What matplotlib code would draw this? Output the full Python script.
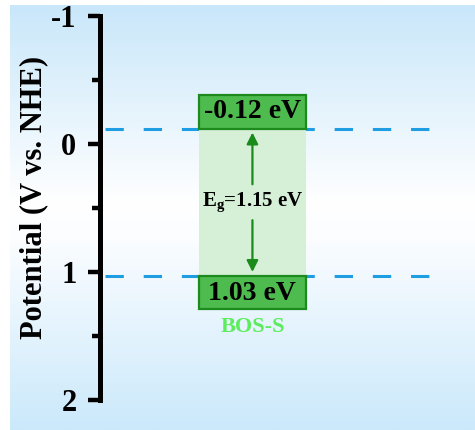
import numpy as np
import matplotlib
matplotlib.use("Agg")
import matplotlib.pyplot as plt
from matplotlib.patches import Rectangle, FancyArrowPatch
from matplotlib.colors import LinearSegmentedColormap

plt.rcParams['font.family'] = ['Liberation Serif', 'DejaVu Serif']
plt.rcParams['font.weight'] = 'bold'
plt.rcParams['mathtext.fontset'] = 'custom'
plt.rcParams['mathtext.rm'] = 'Liberation Serif:bold'
plt.rcParams['mathtext.it'] = 'Liberation Serif:bold'
plt.rcParams['mathtext.bf'] = 'Liberation Serif:bold'

# Band-edge data (V vs. NHE)
sample = "BOS-S"
cb_edge = -0.12
vb_edge = 1.03
band_gap = 1.15
y_ticks = [-1, 0, 1, 2]
y_minor = [-0.5, 0.5, 1.5]
y_label = "Potential (V vs. NHE)"

W, H = 475, 430
fig = plt.figure(figsize=(W / 100, H / 100), dpi=100)

# soft blue-white-blue backdrop
bg = fig.add_axes([10 / W, 0, 1 - 10 / W, 1 - 5 / H], zorder=0)
cmap = LinearSegmentedColormap.from_list(
    "bgfade", [(0.0, "#c9e7fa"), (0.47, "#ffffff"), (0.55, "#fbfdff"), (1.0, "#cbe9fb")])
grad = np.linspace(0, 1, 256).reshape(-1, 1)
bg.imshow(grad, aspect="auto", cmap=cmap, extent=[0, 1, 1, 0])
bg.set_axis_off()

ax = fig.add_axes([100 / W, 1 - 400 / H, 1 - 100 / W, (400 - 16) / H], zorder=1)
ax.set_facecolor("none")
ax.set_xlim(0, 1)
ax.set_ylim(2, -1)
for s in ["top", "right", "bottom"]:
    ax.spines[s].set_visible(False)
ax.spines["left"].set_linewidth(3.6)
ax.spines["left"].set_position(("data", 0.0))
ax.xaxis.set_visible(False)
ax.set_yticks(y_ticks)
ax.set_yticklabels([str(t) for t in y_ticks])
ax.set_yticks(y_minor, minor=True)
ax.tick_params(axis="y", which="major", direction="out", length=9, width=3.2,
               labelsize=22, pad=8)
ax.tick_params(axis="y", which="minor", direction="out", length=5.5, width=3.2)

fig.text(34 / W, 1 - 197 / H, y_label, rotation=90, ha="center", va="center",
         fontsize=22, fontweight="bold")

# band layout in axes x units
x0, x1 = 0.264, 0.549
xc = (x0 + x1) / 2
box_h = 0.26
face = "#4dbb4d"
edge = "#1d8a1d"

# dashed reference lines at band edges
for lvl in (cb_edge, vb_edge):
    ax.plot([0.013, 0.88], [lvl, lvl], color="#1e9de3", lw=2.2,
            dashes=(6, 6.5), zorder=2)

# gap region
ax.add_patch(Rectangle((x0, cb_edge), x1 - x0, vb_edge - cb_edge,
                       facecolor="#d6f0d7", edgecolor="none", zorder=3))

# CB and VB boxes
ax.add_patch(Rectangle((x0, cb_edge - box_h), x1 - x0, box_h,
                       facecolor=face, edgecolor=edge, lw=1.6, zorder=4))
ax.add_patch(Rectangle((x0, vb_edge), x1 - x0, box_h,
                       facecolor=face, edgecolor=edge, lw=1.6, zorder=4))
ax.text(xc, cb_edge - box_h / 2, f"{cb_edge:.2f} eV", ha="center", va="center",
        fontsize=20, fontweight="bold", zorder=5)
ax.text(xc, vb_edge + box_h / 2 + 0.01, f"{vb_edge:.2f} eV", ha="center", va="center",
        fontsize=20, fontweight="bold", zorder=5)
ax.text(xc, vb_edge + box_h + 0.14, sample, ha="center", va="center",
        fontsize=16, fontweight="bold", color="#5ced5c", zorder=5)

# gap label and arrows
mid = (cb_edge + vb_edge) / 2
ax.text(xc, mid, r"$\mathrm{E_g}$" + f"={band_gap:.2f} eV", ha="center", va="center",
        fontsize=15, fontweight="bold", zorder=5)
for tail, tip in ((mid - 0.14, cb_edge + 0.03), (mid + 0.14, vb_edge - 0.03)):
    ax.add_patch(FancyArrowPatch((xc, tail), (xc, tip), arrowstyle="-|>",
                                 mutation_scale=17, color="#1a8a1a", lw=1.6,
                                 shrinkA=0, shrinkB=0, zorder=5))

fig.savefig("out.png", dpi=100)
